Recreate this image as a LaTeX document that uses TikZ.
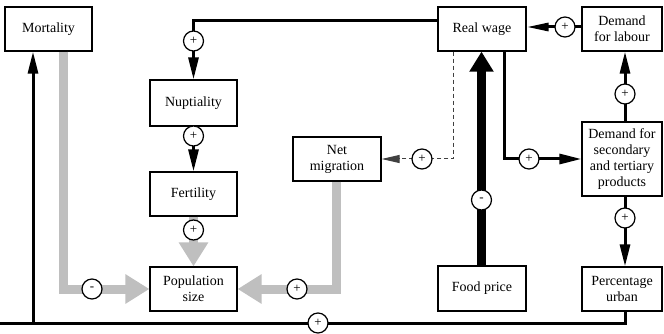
\documentclass[tikz,border=0pt]{standalone}
\usepackage{fontspec}
\setmainfont{Liberation Serif}
\usetikzlibrary{arrows.meta}
\begin{document}
\begin{tikzpicture}[x=1pt,y=-1pt,
  box/.style={draw,line width=1.2pt,fill=white,inner sep=0pt,align=center,
    font=\fontsize{14}{16}\selectfont},
  sgn/.style={draw,circle,line width=1.2pt,fill=white,inner sep=0pt,minimum size=20pt,
    font=\fontsize{13}{13}\selectfont},
  blk/.style={line width=3pt,-{Triangle[length=22pt,width=10pt]}},
  gry/.style={line width=9pt,color=black!25,-{Triangle[length=24pt,width=28pt]}},
  dsh/.style={line width=1pt,dash pattern=on 4pt off 3pt,color=black!75,-{Triangle[length=18pt,width=8pt]}},
  fat/.style={line width=9pt,-{Triangle[length=20pt,width=23pt]}}]
\useasboundingbox (0,0) rectangle (664,334);
\node[box,minimum width=87pt,minimum height=44pt] (mort) at (48.5,29) {Mortality};
\node[box,minimum width=87pt,minimum height=46pt] (nupt) at (193.5,103) {Nuptiality};
\node[box,minimum width=87pt,minimum height=44pt] (fert) at (193.5,194) {Fertility};
\node[box,minimum width=87pt,minimum height=44pt] (pop) at (193.5,289) {Population\\size};
\node[box,minimum width=88pt,minimum height=44pt] (netm) at (337,159) {Net\\migration};
\node[box,minimum width=88pt,minimum height=44pt] (wage) at (482,29) {Real wage};
\node[box,minimum width=80pt,minimum height=44pt] (dlab) at (622,29) {Demand\\for labour};
\node[box,minimum width=80pt,minimum height=74pt] (dsec) at (622,159) {Demand for\\secondary\\and tertiary\\products};
\node[box,minimum width=88pt,minimum height=45pt] (food) at (482,288.5) {Food price};
\node[box,minimum width=80pt,minimum height=44pt] (urban) at (622,289) {Percentage\\urban};
\coordinate (loopb) at (0,323);
% connectors
\draw[blk] ([yshift=8pt]wage.west) -| (nupt.north);
\draw[blk] (nupt.south) -- (fert.north);
\draw[gry] (fert.south) -- (pop.north);
\draw[gry] ([xshift=14.5pt]mort.south) |- (pop.west);
\draw[gry] ([xshift=-1pt]netm.south) |- (pop.east);
\draw[blk] ([xshift=3pt]urban.south) |- (loopb) -| ([xshift=-15.5pt]mort.south);
\draw[dsh] ([xshift=-29pt]wage.south) |- (netm.east);
\draw[blk] ([xshift=22pt]wage.south) |- (dsec.west);
\draw[fat] ([xshift=-0.5pt]food.north) -- ([xshift=-0.5pt]wage.south);
\draw[blk,-{Triangle[length=22pt,width=8pt]}] ([yshift=2pt]dlab.west) -- ([yshift=2pt]wage.east);
\draw[blk] ([xshift=3pt]dsec.north) -- ([xshift=3pt]dlab.south);
\draw[blk] ([xshift=3pt]dsec.south) -- ([xshift=3pt]urban.north);
% signs
\node[sgn] (s1) at (193.5,41) {+};
\node[sgn] (s2) at (193.5,136) {+};
\node[sgn] (s3) at (193.5,230) {+};
\node[sgn] (s4) at (92,289) {-};
\node[sgn] (s5) at (297,289) {+};
\node[sgn] (s6) at (318,323) {+};
\node[sgn] (s7) at (422,159) {+};
\node[sgn] (s8) at (529,159) {+};
\node[sgn] (s9) at (481.5,200) {-};
\node[sgn] (s10) at (565,27) {+};
\node[sgn] (s11) at (625,94) {+};
\node[sgn] (s12) at (625,218) {+};
\end{tikzpicture}
\end{document}
